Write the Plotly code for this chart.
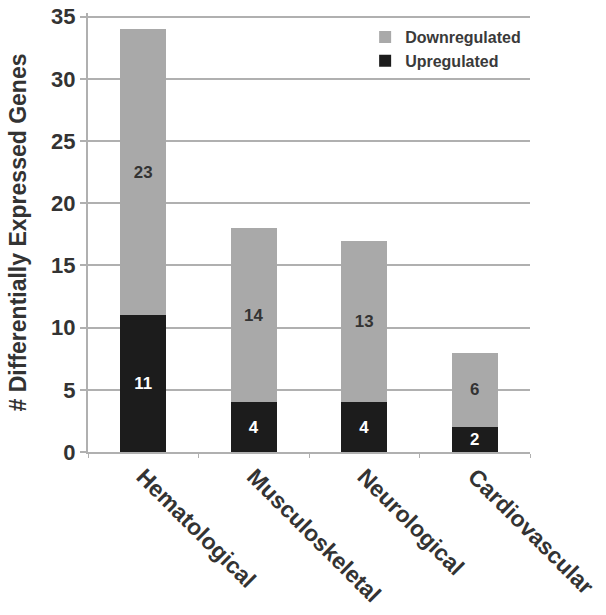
import plotly.graph_objects as go

categories = ["Hematological", "Musculoskeletal", "Neurological", "Cardiovascular"]
upregulated = [11, 4, 4, 2]
downregulated = [23, 14, 13, 6]
y_ticks = [0, 5, 10, 15, 20, 25, 30, 35]

FONT = "Liberation Sans, Arial, sans-serif"

fig = go.Figure()
fig.add_trace(go.Bar(
    x=categories, y=upregulated, name="Upregulated",
    marker=dict(color="#1c1c1c", line=dict(width=0)),
    text=[str(v) for v in upregulated], textposition="inside",
    insidetextanchor="middle", textangle=0,
    textfont=dict(family=FONT, size=17, color="white", weight="bold"),
    width=0.42,
))
fig.add_trace(go.Bar(
    x=categories, y=downregulated, name="Downregulated",
    marker=dict(color="#a9a9a9", line=dict(width=0)),
    text=[str(v) for v in downregulated], textposition="inside",
    insidetextanchor="middle", textangle=0,
    textfont=dict(family=FONT, size=17, color="#333333", weight="bold"),
    width=0.42,
))

fig.update_layout(
    width=606, height=615,
    barmode="stack",
    plot_bgcolor="white", paper_bgcolor="white",
    margin=dict(l=88, r=76, t=13, b=163),
    font=dict(family=FONT, color="#333333"),
    uniformtext=dict(minsize=10, mode="show"),
    legend=dict(
        x=0.627, y=0.984, xanchor="left", yanchor="top",
        traceorder="reversed",
        font=dict(family=FONT, size=16, color="#3a3a3a", weight="bold"),
        bgcolor="rgba(255,255,255,0)",
        itemwidth=30, tracegroupgap=0,
    ),
    showlegend=True,
)
fig.update_yaxes(
    range=[0, 35.3], tickvals=y_ticks, automargin=False,
    ticklabeloverflow="allow",
    showgrid=True, gridcolor="#b0b0b0", gridwidth=2,
    showline=True, linecolor="#b0b0b0", linewidth=2,
    ticks="outside", ticklen=6, tickcolor="#b0b0b0", tickwidth=2,
    tickfont=dict(family=FONT, size=22, color="#333333", weight="bold"),
    title=dict(text="# Differentially Expressed Genes",
               font=dict(family=FONT, size=23, color="#333333", weight="bold"),
               standoff=18),
    zeroline=False,
)
fig.update_xaxes(
    tickangle=45, automargin=False,
    ticklabeloverflow="allow",
    showline=True, linecolor="#b0b0b0", linewidth=2,
    ticks="outside", ticklen=4, tickcolor="#b0b0b0", tickson="boundaries",
    tickfont=dict(family=FONT, size=23, color="#333333", weight="bold"),
    range=[-0.5, 3.5],
)

fig.write_html("out.html", config={"displayModeBar": False},
               post_script="document.body.style.margin='0';")
